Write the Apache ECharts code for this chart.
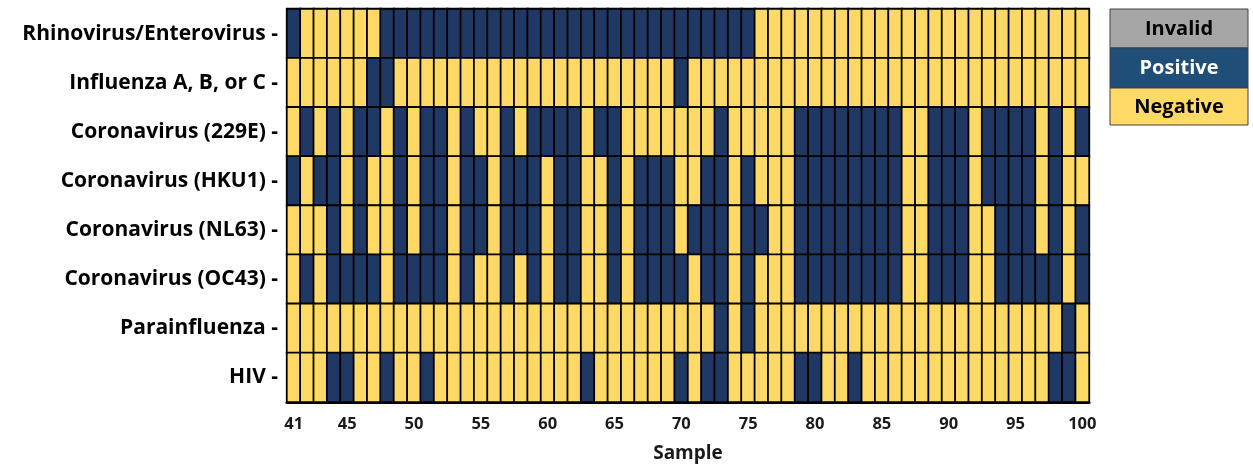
<!DOCTYPE html>
<html>
<head>
<meta charset="utf-8">
<script src="https://cdn.jsdelivr.net/npm/echarts@6/dist/echarts.min.js"></script>
<style>
html,body{margin:0;padding:0;background:#fff;}
#chart{width:1253px;height:468px;}
</style>
</head>
<body>
<div id="chart"></div>
<script>
// Samples 41..100
const samples = [41,42,43,44,45,46,47,48,49,50,51,52,53,54,55,56,57,58,59,60,
  61,62,63,64,65,66,67,68,69,70,71,72,73,74,75,76,77,78,79,80,
  81,82,83,84,85,86,87,88,89,90,91,92,93,94,95,96,97,98,99,100];

const viruses = ['Rhinovirus/Enterovirus','Influenza A, B, or C','Coronavirus (229E)',
  'Coronavirus (HKU1)','Coronavirus (NL63)','Coronavirus (OC43)','Parainfluenza','HIV'];

const statusNames = ['Negative','Positive','Invalid']; // 0,1,2

// 1 = Positive, 0 = Negative
const rhinoEntero = [1,0,0,0,0,0,0,1,1,1, 1,1,1,1,1,1,1,1,1,1, 1,1,1,1,1,1,1,1,1,1, 1,1,1,1,1,0,0,0,0,0, 0,0,0,0,0,0,0,0,0,0, 0,0,0,0,0,0,0,0,0,0];
const influenza   = [0,0,0,0,0,0,1,1,0,0, 0,0,0,0,0,0,0,0,0,0, 0,0,0,0,0,0,0,0,0,1, 0,0,0,0,0,0,0,0,0,0, 0,0,0,0,0,0,0,0,0,0, 0,0,0,0,0,0,0,0,0,0];
const cov229E     = [0,1,0,1,0,1,1,0,1,0, 1,1,0,1,0,0,1,0,1,1, 1,1,0,1,1,0,0,0,0,0, 0,0,1,0,0,0,0,0,1,1, 1,1,1,1,1,1,0,0,1,1, 1,0,1,1,1,1,0,1,0,1];
const covHKU1     = [1,0,1,1,0,1,0,0,1,0, 1,1,0,1,1,0,1,1,1,0, 1,1,0,0,1,0,1,1,1,0, 0,1,1,0,1,0,0,0,1,1, 1,1,1,1,1,1,0,0,1,1, 1,0,1,1,1,1,0,1,0,0];
const covNL63     = [0,0,0,1,0,1,0,0,1,0, 1,1,0,1,1,0,1,1,1,0, 1,1,0,0,1,0,1,1,1,0, 1,1,1,0,1,1,0,0,1,1, 1,1,1,1,1,1,0,0,1,1, 1,0,0,1,1,1,0,1,0,1];
const covOC43     = [0,1,0,1,1,1,1,0,1,1, 1,1,0,1,0,0,1,0,1,0, 1,1,0,0,1,0,1,1,1,1, 0,1,1,0,1,0,0,0,1,1, 1,1,1,1,1,1,0,0,1,1, 1,0,0,1,1,1,1,1,0,1];
const parainfluenza=[0,0,0,0,0,0,0,0,0,0, 0,0,0,0,0,0,0,0,0,0, 0,0,0,0,0,0,0,0,0,0, 0,0,1,0,1,0,0,0,0,0, 0,0,0,0,0,0,0,0,0,0, 0,0,0,0,0,0,0,0,1,0];
const hiv         = [0,0,0,1,1,0,0,1,0,0, 1,0,0,0,0,0,0,0,0,0, 0,0,1,0,0,0,0,0,0,1, 0,1,1,0,0,0,0,0,1,1, 0,0,1,0,0,0,0,0,0,0, 0,0,0,0,0,0,0,1,1,0];

const rows = [rhinoEntero, influenza, cov229E, covHKU1, covNL63, covOC43, parainfluenza, hiv];

const data = [];
rows.forEach((r, yi) => r.forEach((v, xi) => data.push([xi, yi, v])));

const NAVY = '#1f3864', YELLOW = '#ffd966', GRAY = '#a6a6a6', LEG_BLUE = '#1f4e79';
const FONT = 'Open Sans';

const chart = echarts.init(document.getElementById('chart'), null, {renderer: 'canvas'});
chart.setOption({
  animation: false,
  backgroundColor: '#fff',
  grid: {left: 287, right: 164, top: 9, bottom: 66, show: true, borderColor: '#000', borderWidth: 2},
  xAxis: {
    type: 'category',
    data: samples,
    name: 'Sample',
    nameLocation: 'middle',
    nameGap: 42,
    nameTextStyle: {fontFamily: FONT, fontWeight: 'bold', fontSize: 19, color: '#1a1a1a'},
    axisLine: {show: true, onZero: false, lineStyle: {color: '#000', width: 3}},
    axisTick: {show: false},
    splitLine: {show: false},
    axisLabel: {
      interval: (idx, val) => Number(val) === 41 || Number(val) % 5 === 0,
      fontFamily: FONT, fontWeight: 'bold', fontSize: 16.5, color: '#1a1a1a', margin: 14
    }
  },
  yAxis: {
    type: 'category',
    data: viruses,
    inverse: true,
    axisLine: {show: false},
    axisTick: {show: false},
    splitLine: {show: false},
    axisLabel: {
      formatter: v => v + ' -',
      fontFamily: FONT, fontWeight: 'bold', fontSize: 21, color: '#000', margin: 9
    }
  },
  visualMap: {
    show: false,
    type: 'piecewise',
    dimension: 2,
    pieces: [
      {value: 0, color: YELLOW, label: statusNames[0]},
      {value: 1, color: NAVY, label: statusNames[1]},
      {value: 2, color: GRAY, label: statusNames[2]}
    ]
  },
  series: [{
    type: 'heatmap',
    data: data,
    itemStyle: {borderColor: '#000', borderWidth: 1.8},
    emphasis: {disabled: true}
  }],
  graphic: [
    {type: 'rect', shape: {x: 1110, y: 9, width: 138, height: 39}, style: {fill: GRAY, stroke: '#404040', lineWidth: 1}},
    {type: 'rect', shape: {x: 1110, y: 48, width: 138, height: 40}, style: {fill: LEG_BLUE, stroke: '#404040', lineWidth: 1}},
    {type: 'rect', shape: {x: 1110, y: 88, width: 138, height: 37}, style: {fill: YELLOW, stroke: '#404040', lineWidth: 1}},
    {type: 'text', x: 1179, y: 29, style: {text: statusNames[2], fill: '#000', font: 'bold 20px "Open Sans"', align: 'center', verticalAlign: 'middle'}},
    {type: 'text', x: 1179, y: 68, style: {text: statusNames[1], fill: '#fff', font: 'bold 20px "Open Sans"', align: 'center', verticalAlign: 'middle'}},
    {type: 'text', x: 1179, y: 107, style: {text: statusNames[0], fill: '#000', font: 'bold 20px "Open Sans"', align: 'center', verticalAlign: 'middle'}}
  ]
});
</script>
</body>
</html>
